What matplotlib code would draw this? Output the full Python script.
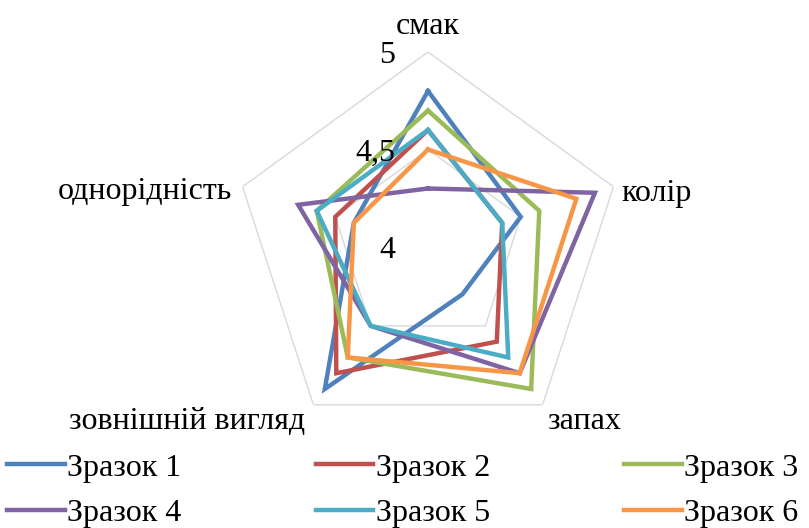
import numpy as np
import matplotlib
matplotlib.use("Agg")
import matplotlib.pyplot as plt
from matplotlib.transforms import offset_copy

# ── Data ──────────────────────────────────────────────────────────────────────
categories = ["смак", "колір", "запах", "зовнішній вигляд", "однорідність"]
series_names = ["Зразок 1", "Зразок 2", "Зразок 3", "Зразок 4", "Зразок 5", "Зразок 6"]
zrazok_1 = [4.8, 4.5, 4.3, 4.9, 4.4]
zrazok_2 = [4.6, 4.4, 4.6, 4.8, 4.5]
zrazok_3 = [4.7, 4.6, 4.9, 4.7, 4.6]
zrazok_4 = [4.3, 4.9, 4.8, 4.5, 4.7]
zrazok_5 = [4.6, 4.4, 4.7, 4.5, 4.6]
zrazok_6 = [4.5, 4.8, 4.8, 4.7, 4.4]
r_ticks = [4, 4.5, 5]
r_tick_labels = ["4", "4,5", "5"]

colors = ["#4F81BD", "#C0504D", "#9BBB59", "#8064A2", "#4BACC6", "#F79646"]

plt.rcParams["font.family"] = ["Liberation Serif", "DejaVu Serif"]
FS = 23

# ── Figure ────────────────────────────────────────────────────────────────────
W, H = 809, 528
fig = plt.figure(figsize=(W / 100, H / 100), dpi=100)
cx, cy, R = 428, 247, 195
ax = fig.add_axes([(cx - R) / W, (H - cy - R) / H, 2 * R / W, 2 * R / H],
                  projection="polar")
ax.set_theta_offset(np.pi / 2)
ax.set_theta_direction(-1)
ax.set_ylim(4, 5)
ax.grid(False)
ax.spines["polar"].set_visible(False)
ax.set_xticks([])
ax.set_yticks([])
ax.patch.set_alpha(0)

n = len(categories)
theta = np.arange(n) * 2 * np.pi / n
theta_closed = np.append(theta, theta[0])

# pentagon gridlines
for rv in r_ticks[1:]:
    ax.plot(theta_closed, [rv] * (n + 1), color="#d9d9d9", lw=1.0, zorder=1)

all_series = [zrazok_1, zrazok_2, zrazok_3, zrazok_4, zrazok_5, zrazok_6]
handles = []
for name, vals, col in zip(series_names, all_series, colors):
    (h,) = ax.plot(theta_closed, vals + vals[:1], color=col, lw=3.2,
                   solid_joinstyle="miter", label=name, zorder=3)
    handles.append(h)

# radial value labels, right-aligned just left of the top axis
tick_tr = offset_copy(ax.transData, fig=fig, x=-33, y=0, units="dots")
for rv, lab in zip(r_ticks, r_tick_labels):
    ax.text(0, rv, lab, transform=tick_tr, ha="right", va="center_baseline",
            fontsize=FS, zorder=4)

# category labels
label_spec = [
    (0, 29, "center", "center_baseline"),
    (8, -3, "left", "center_baseline"),
    (5, -13, "left", "center_baseline"),
    (-8, -13, "right", "center_baseline"),
    (-10, -1, "right", "center_baseline"),
]
for th, cat, (dx, dy, ha, va) in zip(theta, categories, label_spec):
    tr = offset_copy(ax.transData, fig=fig, x=dx, y=dy, units="dots")
    ax.text(th, 5, cat, transform=tr, ha=ha, va=va, fontsize=FS)

# legend: row-major order
order = [0, 3, 1, 4, 2, 5]
fig.legend([handles[i] for i in order], [series_names[i] for i in order],
           ncol=3, loc="lower left", bbox_to_anchor=(0.009, 0.0),
           frameon=False, fontsize=FS, handlelength=1.8, handletextpad=0.08,
           columnspacing=4.2, labelspacing=0.5, borderpad=0, borderaxespad=0)

fig.savefig("out.png", dpi=100)
